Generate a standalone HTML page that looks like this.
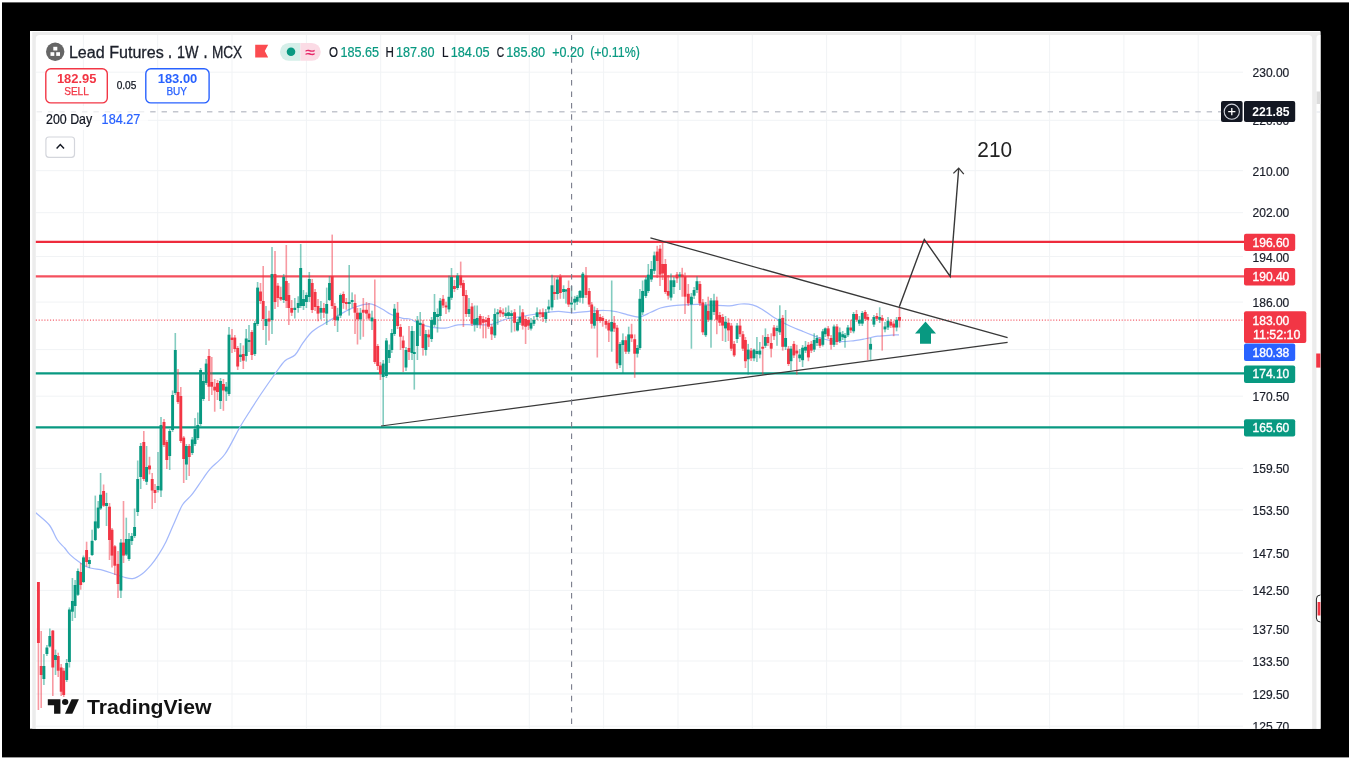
<!DOCTYPE html>
<html lang="en"><head><meta charset="utf-8"><title>Lead Futures 1W MCX</title>
<style>html,body{margin:0;padding:0;background:#fff;overflow:hidden}body{width:1350px;height:759px}svg{display:block}</style>
</head><body>
<svg width="1350" height="759" viewBox="0 0 1350 759" font-family="'Liberation Sans', sans-serif">
<defs><clipPath id="inner"><rect x="30" y="31" width="1290.4" height="697.7"/></clipPath><clipPath id="pane"><rect x="35.8" y="35" width="1207.2" height="694"/></clipPath></defs>
<rect width="1350" height="759" fill="#fff"/>
<rect x="2" y="2.4" width="1347" height="755" fill="#000"/>
<g clip-path="url(#inner)">
<rect x="30" y="31" width="1291" height="698" fill="#fff"/>
<rect x="32.3" y="32.1" width="1290" height="700" fill="#ececec"/>
<rect x="1316.5" y="35.1" width="12" height="720" rx="3" fill="#fff"/>
<rect x="35.8" y="35" width="1276.4" height="720" rx="4" fill="#fff"/>
<line x1="83.4" y1="35" x2="83.4" y2="729" stroke="#f1f3f5" stroke-width="1"/>
<line x1="157.7" y1="35" x2="157.7" y2="729" stroke="#f1f3f5" stroke-width="1"/>
<line x1="232.0" y1="35" x2="232.0" y2="729" stroke="#f1f3f5" stroke-width="1"/>
<line x1="306.4" y1="35" x2="306.4" y2="729" stroke="#f1f3f5" stroke-width="1"/>
<line x1="380.7" y1="35" x2="380.7" y2="729" stroke="#f1f3f5" stroke-width="1"/>
<line x1="455.0" y1="35" x2="455.0" y2="729" stroke="#f1f3f5" stroke-width="1"/>
<line x1="529.3" y1="35" x2="529.3" y2="729" stroke="#f1f3f5" stroke-width="1"/>
<line x1="603.6" y1="35" x2="603.6" y2="729" stroke="#f1f3f5" stroke-width="1"/>
<line x1="678.0" y1="35" x2="678.0" y2="729" stroke="#f1f3f5" stroke-width="1"/>
<line x1="752.3" y1="35" x2="752.3" y2="729" stroke="#f1f3f5" stroke-width="1"/>
<line x1="826.6" y1="35" x2="826.6" y2="729" stroke="#f1f3f5" stroke-width="1"/>
<line x1="900.9" y1="35" x2="900.9" y2="729" stroke="#f1f3f5" stroke-width="1"/>
<line x1="975.2" y1="35" x2="975.2" y2="729" stroke="#f1f3f5" stroke-width="1"/>
<line x1="1049.6" y1="35" x2="1049.6" y2="729" stroke="#f1f3f5" stroke-width="1"/>
<line x1="1123.9" y1="35" x2="1123.9" y2="729" stroke="#f1f3f5" stroke-width="1"/>
<line x1="1198.2" y1="35" x2="1198.2" y2="729" stroke="#f1f3f5" stroke-width="1"/>
<line x1="35.8" y1="72.2" x2="1243" y2="72.2" stroke="#f1f3f5" stroke-width="1"/>
<line x1="35.8" y1="120.3" x2="1243" y2="120.3" stroke="#f1f3f5" stroke-width="1"/>
<line x1="35.8" y1="170.7" x2="1243" y2="170.7" stroke="#f1f3f5" stroke-width="1"/>
<line x1="35.8" y1="212.7" x2="1243" y2="212.7" stroke="#f1f3f5" stroke-width="1"/>
<line x1="35.8" y1="256.5" x2="1243" y2="256.5" stroke="#f1f3f5" stroke-width="1"/>
<line x1="35.8" y1="302.1" x2="1243" y2="302.1" stroke="#f1f3f5" stroke-width="1"/>
<line x1="35.8" y1="349.6" x2="1243" y2="349.6" stroke="#f1f3f5" stroke-width="1"/>
<line x1="35.8" y1="396.2" x2="1243" y2="396.2" stroke="#f1f3f5" stroke-width="1"/>
<line x1="35.8" y1="468.4" x2="1243" y2="468.4" stroke="#f1f3f5" stroke-width="1"/>
<line x1="35.8" y1="509.9" x2="1243" y2="509.9" stroke="#f1f3f5" stroke-width="1"/>
<line x1="35.8" y1="553.1" x2="1243" y2="553.1" stroke="#f1f3f5" stroke-width="1"/>
<line x1="35.8" y1="590.4" x2="1243" y2="590.4" stroke="#f1f3f5" stroke-width="1"/>
<line x1="35.8" y1="629.1" x2="1243" y2="629.1" stroke="#f1f3f5" stroke-width="1"/>
<line x1="35.8" y1="661.0" x2="1243" y2="661.0" stroke="#f1f3f5" stroke-width="1"/>
<line x1="35.8" y1="694.0" x2="1243" y2="694.0" stroke="#f1f3f5" stroke-width="1"/>
<line x1="35.8" y1="726.2" x2="1243" y2="726.2" stroke="#f1f3f5" stroke-width="1"/>
<line x1="35.8" y1="241.9" x2="1244" y2="241.9" stroke="#ee2b3c" stroke-width="2.15"/>
<line x1="35.8" y1="276.4" x2="1244" y2="276.4" stroke="#f4505e" stroke-width="2.15"/>
<line x1="35.8" y1="373.3" x2="1244" y2="373.3" stroke="#089981" stroke-width="2.15"/>
<line x1="35.8" y1="427.3" x2="1244" y2="427.3" stroke="#089981" stroke-width="2.15"/>
<line x1="35.8" y1="320.1" x2="1244" y2="320.1" stroke="#f23645" stroke-width="1.3" stroke-dasharray="1.1 1.75" opacity="0.8"/>
<g clip-path="url(#pane)">
<path d="M35.8 512.7C38.0 514.8 45.7 520.5 49.3 525.0C52.9 529.5 54.8 536.2 57.4 540.0C60.0 543.8 62.6 545.6 64.7 548.0C66.8 550.4 67.6 552.3 70.0 554.6C72.4 556.9 76.1 559.9 79.2 562.0C82.3 564.1 84.5 566.1 88.5 567.5C92.5 568.9 98.9 569.2 103.2 570.3C107.5 571.4 110.9 572.9 114.3 574.0C117.7 575.1 120.4 576.2 123.5 577.0C126.6 577.8 129.6 579.1 132.7 578.6C135.8 578.1 138.9 576.3 142.0 574.0C145.1 571.7 148.4 568.0 151.2 564.8C154.0 561.6 156.1 558.5 158.6 554.6C161.1 550.8 163.6 546.6 166.0 541.7C168.4 536.8 170.6 531.1 173.3 525.0C176.1 518.9 179.4 509.9 182.5 504.8C185.6 499.8 188.4 499.0 191.8 494.7C195.2 490.4 199.7 483.3 202.8 479.0C205.9 474.7 206.5 473.0 210.2 468.8C213.9 464.6 220.0 461.0 225.0 454.0C230.0 447.0 235.7 434.3 240.0 427.0C244.3 419.7 246.9 415.8 250.6 410.0C254.3 404.2 257.8 398.7 262.0 392.5C266.2 386.3 271.8 378.3 275.6 373.0C279.4 367.7 281.8 363.7 285.0 360.7C288.2 357.7 292.1 357.9 295.0 355.0C297.9 352.1 299.8 347.3 302.6 343.4C305.4 339.5 308.5 335.0 312.0 331.8C315.5 328.6 320.2 326.2 323.8 324.0C327.4 321.8 329.9 320.4 333.4 318.3C336.9 316.2 341.1 313.5 345.0 311.6C348.9 309.7 352.3 308.0 356.5 306.7C360.7 305.4 365.8 303.6 370.0 303.9C374.2 304.2 378.1 306.9 381.6 308.7C385.1 310.5 387.7 312.9 391.2 314.5C394.7 316.1 399.7 317.6 402.8 318.3C405.9 319.1 407.2 318.1 410.0 319.0C412.8 319.9 416.4 322.5 419.6 323.8C422.8 325.1 425.1 326.0 429.3 326.7C433.5 327.4 439.9 328.5 444.7 328.2C449.5 327.9 453.2 325.4 458.0 324.8C462.8 324.2 468.1 324.9 473.6 324.8C479.1 324.7 485.6 325.4 491.0 324.4C496.4 323.4 501.8 320.2 506.3 319.0C510.8 317.8 514.1 317.7 518.0 317.0C521.9 316.3 525.0 315.7 529.5 315.0C534.0 314.3 540.2 313.4 545.0 312.8C549.8 312.2 553.6 311.3 558.4 311.3C563.2 311.3 568.7 312.8 573.8 312.8C578.9 312.8 583.9 311.7 589.0 311.3C594.1 310.9 600.1 310.4 604.6 310.5C609.1 310.6 612.1 311.0 616.0 311.7C619.9 312.4 623.8 313.9 627.7 314.8C631.6 315.7 635.4 317.4 639.3 317.0C643.1 316.6 647.3 313.8 650.8 312.3C654.3 310.8 657.0 309.1 660.5 308.0C664.0 306.9 667.5 306.4 671.6 305.9C675.7 305.4 680.5 305.1 685.0 304.8C689.5 304.6 693.7 304.3 698.5 304.4C703.3 304.5 708.9 305.1 714.0 305.3C719.1 305.6 724.9 306.1 729.4 305.9C733.9 305.7 737.1 304.2 741.0 304.0C744.9 303.8 749.0 303.9 752.5 304.8C756.0 305.7 758.8 307.3 762.0 309.2C765.2 311.1 768.6 313.9 771.8 316.0C775.0 318.1 778.2 319.9 781.4 321.7C784.6 323.4 787.5 324.9 791.0 326.5C794.5 328.1 799.1 329.9 802.6 331.3C806.1 332.8 808.7 333.9 812.2 335.2C815.7 336.5 819.6 338.0 823.8 339.0C828.0 340.0 832.8 341.1 837.3 341.4C841.8 341.7 846.3 341.4 850.8 341.0C855.3 340.6 859.7 339.8 864.2 339.0C868.7 338.2 873.2 336.8 877.7 336.2C882.2 335.6 887.7 335.4 891.2 335.2C894.8 335.0 897.7 334.9 899.0 334.8" fill="none" stroke="#a4b9fb" stroke-width="1.25"/>
<rect x="37.60" y="582.0" width="1.6" height="128.0" fill="#f23645" opacity="0.5"/>
<rect x="36.95" y="582.0" width="2.9" height="61.0" fill="#f23645"/>
<rect x="40.40" y="631.0" width="1.6" height="77.0" fill="#f23645" opacity="0.5"/>
<rect x="39.75" y="666.0" width="2.9" height="9.0" fill="#f23645"/>
<rect x="43.10" y="654.0" width="1.6" height="31.0" fill="#089981" opacity="0.5"/>
<rect x="42.45" y="666.0" width="2.9" height="13.0" fill="#089981"/>
<rect x="46.10" y="645.0" width="1.6" height="11.0" fill="#089981" opacity="0.5"/>
<rect x="45.45" y="647.5" width="2.9" height="6.5" fill="#089981"/>
<rect x="49.00" y="628.5" width="1.6" height="19.0" fill="#089981" opacity="0.5"/>
<rect x="48.35" y="636.0" width="2.9" height="10.5" fill="#089981"/>
<rect x="52.00" y="630.0" width="1.6" height="66.0" fill="#f23645" opacity="0.5"/>
<rect x="51.35" y="630.6" width="2.9" height="36.9" fill="#f23645"/>
<rect x="54.70" y="649.6" width="1.6" height="25.4" fill="#089981" opacity="0.5"/>
<rect x="54.05" y="655.0" width="2.9" height="5.0" fill="#089981"/>
<rect x="57.40" y="652.7" width="1.6" height="24.3" fill="#f23645" opacity="0.5"/>
<rect x="56.75" y="656.0" width="2.9" height="14.7" fill="#f23645"/>
<rect x="60.40" y="664.0" width="1.6" height="32.0" fill="#f23645" opacity="0.5"/>
<rect x="59.75" y="667.5" width="2.9" height="24.2" fill="#f23645"/>
<rect x="62.90" y="668.0" width="1.6" height="29.0" fill="#f23645" opacity="0.5"/>
<rect x="62.25" y="670.7" width="2.9" height="24.3" fill="#f23645"/>
<rect x="65.90" y="659.0" width="1.6" height="23.0" fill="#089981" opacity="0.5"/>
<rect x="65.25" y="663.0" width="2.9" height="17.0" fill="#089981"/>
<rect x="68.60" y="607.4" width="1.6" height="60.1" fill="#089981" opacity="0.5"/>
<rect x="67.95" y="609.5" width="2.9" height="52.5" fill="#089981"/>
<rect x="71.60" y="578.0" width="1.6" height="43.0" fill="#089981" opacity="0.5"/>
<rect x="70.95" y="601.0" width="2.9" height="10.7" fill="#089981"/>
<rect x="74.30" y="580.0" width="1.6" height="38.0" fill="#089981" opacity="0.5"/>
<rect x="73.65" y="585.0" width="2.9" height="21.0" fill="#089981"/>
<rect x="77.10" y="568.5" width="1.6" height="27.5" fill="#089981" opacity="0.5"/>
<rect x="76.45" y="571.0" width="2.9" height="23.8" fill="#089981"/>
<rect x="79.90" y="563.0" width="1.6" height="26.7" fill="#f23645" opacity="0.5"/>
<rect x="79.25" y="572.0" width="2.9" height="13.0" fill="#f23645"/>
<rect x="82.70" y="555.5" width="1.6" height="27.5" fill="#089981" opacity="0.5"/>
<rect x="82.05" y="557.4" width="2.9" height="24.6" fill="#089981"/>
<rect x="85.80" y="541.7" width="1.6" height="24.9" fill="#f23645" opacity="0.5"/>
<rect x="85.15" y="550.0" width="2.9" height="12.0" fill="#f23645"/>
<rect x="88.60" y="557.0" width="1.6" height="11.0" fill="#089981" opacity="0.5"/>
<rect x="87.95" y="560.0" width="2.9" height="4.0" fill="#089981"/>
<rect x="91.30" y="529.7" width="1.6" height="26.3" fill="#089981" opacity="0.5"/>
<rect x="90.65" y="540.8" width="2.9" height="14.2" fill="#089981"/>
<rect x="94.50" y="495.6" width="1.6" height="45.4" fill="#089981" opacity="0.5"/>
<rect x="93.85" y="521.4" width="2.9" height="18.6" fill="#089981"/>
<rect x="97.40" y="501.0" width="1.6" height="28.0" fill="#089981" opacity="0.5"/>
<rect x="96.75" y="507.6" width="2.9" height="20.3" fill="#089981"/>
<rect x="99.80" y="473.0" width="1.6" height="37.0" fill="#089981" opacity="0.5"/>
<rect x="99.15" y="494.7" width="2.9" height="13.8" fill="#089981"/>
<rect x="102.80" y="484.5" width="1.6" height="22.5" fill="#f23645" opacity="0.5"/>
<rect x="102.15" y="491.0" width="2.9" height="14.7" fill="#f23645"/>
<rect x="105.70" y="492.8" width="1.6" height="33.2" fill="#089981" opacity="0.5"/>
<rect x="105.05" y="503.0" width="2.9" height="3.0" fill="#089981"/>
<rect x="108.70" y="503.0" width="1.6" height="57.0" fill="#f23645" opacity="0.5"/>
<rect x="108.05" y="506.7" width="2.9" height="33.3" fill="#f23645"/>
<rect x="111.20" y="528.0" width="1.6" height="39.5" fill="#f23645" opacity="0.5"/>
<rect x="110.55" y="529.7" width="2.9" height="25.9" fill="#f23645"/>
<rect x="114.00" y="545.0" width="1.6" height="30.0" fill="#f23645" opacity="0.5"/>
<rect x="113.35" y="546.3" width="2.9" height="19.4" fill="#f23645"/>
<rect x="117.20" y="551.0" width="1.6" height="47.0" fill="#f23645" opacity="0.5"/>
<rect x="116.55" y="563.9" width="2.9" height="20.1" fill="#f23645"/>
<rect x="120.10" y="539.0" width="1.6" height="59.0" fill="#089981" opacity="0.5"/>
<rect x="119.45" y="542.6" width="2.9" height="48.0" fill="#089981"/>
<rect x="122.70" y="501.0" width="1.6" height="62.0" fill="#f23645" opacity="0.5"/>
<rect x="122.05" y="542.6" width="2.9" height="13.0" fill="#f23645"/>
<rect x="125.50" y="517.7" width="1.6" height="38.3" fill="#089981" opacity="0.5"/>
<rect x="124.85" y="539.0" width="2.9" height="15.6" fill="#089981"/>
<rect x="128.20" y="533.0" width="1.6" height="28.0" fill="#089981" opacity="0.5"/>
<rect x="127.55" y="539.0" width="2.9" height="20.0" fill="#089981"/>
<rect x="131.00" y="533.0" width="1.6" height="12.0" fill="#089981" opacity="0.5"/>
<rect x="130.35" y="536.0" width="2.9" height="5.0" fill="#089981"/>
<rect x="133.80" y="508.5" width="1.6" height="29.5" fill="#089981" opacity="0.5"/>
<rect x="133.15" y="527.0" width="2.9" height="9.0" fill="#089981"/>
<rect x="136.90" y="460.5" width="1.6" height="55.5" fill="#089981" opacity="0.5"/>
<rect x="136.25" y="479.0" width="2.9" height="33.0" fill="#089981"/>
<rect x="139.90" y="443.0" width="1.6" height="46.0" fill="#089981" opacity="0.5"/>
<rect x="139.25" y="446.0" width="2.9" height="31.0" fill="#089981"/>
<rect x="143.00" y="431.0" width="1.6" height="50.0" fill="#f23645" opacity="0.5"/>
<rect x="142.35" y="442.0" width="2.9" height="37.0" fill="#f23645"/>
<rect x="145.80" y="446.0" width="1.6" height="39.0" fill="#089981" opacity="0.5"/>
<rect x="145.15" y="467.0" width="2.9" height="14.8" fill="#089981"/>
<rect x="148.70" y="456.8" width="1.6" height="17.6" fill="#f23645" opacity="0.5"/>
<rect x="148.05" y="465.5" width="2.9" height="3.9" fill="#f23645"/>
<rect x="151.40" y="473.0" width="1.6" height="36.0" fill="#f23645" opacity="0.5"/>
<rect x="150.75" y="479.0" width="2.9" height="11.5" fill="#f23645"/>
<rect x="154.20" y="484.0" width="1.6" height="19.0" fill="#f23645" opacity="0.5"/>
<rect x="153.55" y="490.0" width="2.9" height="3.0" fill="#f23645"/>
<rect x="157.20" y="452.0" width="1.6" height="40.5" fill="#089981" opacity="0.5"/>
<rect x="156.55" y="486.0" width="2.9" height="4.0" fill="#089981"/>
<rect x="160.20" y="417.0" width="1.6" height="80.0" fill="#089981" opacity="0.5"/>
<rect x="159.55" y="425.0" width="2.9" height="65.5" fill="#089981"/>
<rect x="163.20" y="419.0" width="1.6" height="28.0" fill="#f23645" opacity="0.5"/>
<rect x="162.55" y="422.0" width="2.9" height="23.0" fill="#f23645"/>
<rect x="166.00" y="440.0" width="1.6" height="29.0" fill="#f23645" opacity="0.5"/>
<rect x="165.35" y="442.0" width="2.9" height="18.0" fill="#f23645"/>
<rect x="168.90" y="429.0" width="1.6" height="41.0" fill="#089981" opacity="0.5"/>
<rect x="168.25" y="431.0" width="2.9" height="25.0" fill="#089981"/>
<rect x="171.80" y="390.5" width="1.6" height="41.5" fill="#089981" opacity="0.5"/>
<rect x="171.15" y="395.0" width="2.9" height="35.0" fill="#089981"/>
<rect x="174.50" y="333.0" width="1.6" height="62.0" fill="#089981" opacity="0.5"/>
<rect x="173.85" y="350.0" width="2.9" height="43.0" fill="#089981"/>
<rect x="177.20" y="369.0" width="1.6" height="35.0" fill="#f23645" opacity="0.5"/>
<rect x="176.55" y="392.0" width="2.9" height="10.0" fill="#f23645"/>
<rect x="180.00" y="387.0" width="1.6" height="56.0" fill="#f23645" opacity="0.5"/>
<rect x="179.35" y="396.0" width="2.9" height="45.0" fill="#f23645"/>
<rect x="182.90" y="436.0" width="1.6" height="47.0" fill="#f23645" opacity="0.5"/>
<rect x="182.25" y="437.6" width="2.9" height="21.4" fill="#f23645"/>
<rect x="185.60" y="444.0" width="1.6" height="36.0" fill="#089981" opacity="0.5"/>
<rect x="184.95" y="446.0" width="2.9" height="18.5" fill="#089981"/>
<rect x="188.40" y="444.0" width="1.6" height="32.0" fill="#f23645" opacity="0.5"/>
<rect x="187.75" y="446.0" width="2.9" height="11.0" fill="#f23645"/>
<rect x="191.50" y="437.0" width="1.6" height="18.0" fill="#089981" opacity="0.5"/>
<rect x="190.85" y="439.5" width="2.9" height="13.5" fill="#089981"/>
<rect x="194.20" y="418.0" width="1.6" height="28.0" fill="#089981" opacity="0.5"/>
<rect x="193.55" y="429.0" width="2.9" height="15.0" fill="#089981"/>
<rect x="197.00" y="412.5" width="1.6" height="27.5" fill="#089981" opacity="0.5"/>
<rect x="196.35" y="425.0" width="2.9" height="13.0" fill="#089981"/>
<rect x="199.80" y="368.0" width="1.6" height="58.0" fill="#089981" opacity="0.5"/>
<rect x="199.15" y="370.0" width="2.9" height="54.0" fill="#089981"/>
<rect x="202.60" y="372.0" width="1.6" height="29.0" fill="#089981" opacity="0.5"/>
<rect x="201.95" y="381.0" width="2.9" height="18.0" fill="#089981"/>
<rect x="205.40" y="359.0" width="1.6" height="26.0" fill="#089981" opacity="0.5"/>
<rect x="204.75" y="363.6" width="2.9" height="19.4" fill="#089981"/>
<rect x="208.20" y="349.0" width="1.6" height="52.0" fill="#f23645" opacity="0.5"/>
<rect x="207.55" y="356.0" width="2.9" height="30.7" fill="#f23645"/>
<rect x="211.00" y="357.0" width="1.6" height="38.0" fill="#f23645" opacity="0.5"/>
<rect x="210.35" y="382.0" width="2.9" height="4.7" fill="#f23645"/>
<rect x="213.90" y="379.0" width="1.6" height="32.7" fill="#f23645" opacity="0.5"/>
<rect x="213.25" y="386.7" width="2.9" height="3.8" fill="#f23645"/>
<rect x="216.70" y="380.0" width="1.6" height="20.0" fill="#f23645" opacity="0.5"/>
<rect x="216.05" y="383.0" width="2.9" height="9.0" fill="#f23645"/>
<rect x="219.70" y="378.0" width="1.6" height="31.0" fill="#089981" opacity="0.5"/>
<rect x="219.05" y="381.0" width="2.9" height="20.0" fill="#089981"/>
<rect x="222.60" y="379.0" width="1.6" height="31.8" fill="#f23645" opacity="0.5"/>
<rect x="221.95" y="384.0" width="2.9" height="6.5" fill="#f23645"/>
<rect x="225.50" y="382.0" width="1.6" height="19.0" fill="#089981" opacity="0.5"/>
<rect x="224.85" y="386.7" width="2.9" height="4.8" fill="#089981"/>
<rect x="228.20" y="327.0" width="1.6" height="69.0" fill="#089981" opacity="0.5"/>
<rect x="227.55" y="334.7" width="2.9" height="59.3" fill="#089981"/>
<rect x="231.20" y="329.0" width="1.6" height="24.0" fill="#f23645" opacity="0.5"/>
<rect x="230.55" y="337.6" width="2.9" height="2.4" fill="#f23645"/>
<rect x="234.00" y="335.0" width="1.6" height="17.0" fill="#f23645" opacity="0.5"/>
<rect x="233.35" y="337.6" width="2.9" height="11.4" fill="#f23645"/>
<rect x="236.90" y="346.0" width="1.6" height="24.0" fill="#f23645" opacity="0.5"/>
<rect x="236.25" y="348.0" width="2.9" height="18.5" fill="#f23645"/>
<rect x="239.70" y="343.0" width="1.6" height="19.0" fill="#089981" opacity="0.5"/>
<rect x="239.05" y="354.6" width="2.9" height="2.4" fill="#089981"/>
<rect x="242.50" y="345.4" width="1.6" height="23.6" fill="#f23645" opacity="0.5"/>
<rect x="241.85" y="354.0" width="2.9" height="6.7" fill="#f23645"/>
<rect x="245.40" y="329.0" width="1.6" height="32.6" fill="#089981" opacity="0.5"/>
<rect x="244.75" y="338.5" width="2.9" height="17.5" fill="#089981"/>
<rect x="248.20" y="325.0" width="1.6" height="27.0" fill="#089981" opacity="0.5"/>
<rect x="247.55" y="340.0" width="2.9" height="2.0" fill="#089981"/>
<rect x="251.10" y="330.0" width="1.6" height="30.0" fill="#f23645" opacity="0.5"/>
<rect x="250.45" y="332.0" width="2.9" height="23.0" fill="#f23645"/>
<rect x="254.00" y="321.0" width="1.6" height="35.0" fill="#089981" opacity="0.5"/>
<rect x="253.35" y="323.0" width="2.9" height="31.0" fill="#089981"/>
<rect x="256.80" y="282.0" width="1.6" height="44.0" fill="#089981" opacity="0.5"/>
<rect x="256.15" y="287.6" width="2.9" height="36.4" fill="#089981"/>
<rect x="259.70" y="283.0" width="1.6" height="21.0" fill="#f23645" opacity="0.5"/>
<rect x="259.05" y="291.5" width="2.9" height="9.5" fill="#f23645"/>
<rect x="262.40" y="266.0" width="1.6" height="64.0" fill="#f23645" opacity="0.5"/>
<rect x="261.75" y="301.0" width="2.9" height="18.0" fill="#f23645"/>
<rect x="265.20" y="306.0" width="1.6" height="39.0" fill="#089981" opacity="0.5"/>
<rect x="264.55" y="319.0" width="2.9" height="7.0" fill="#089981"/>
<rect x="268.20" y="310.7" width="1.6" height="29.9" fill="#f23645" opacity="0.5"/>
<rect x="267.55" y="318.5" width="2.9" height="3.0" fill="#f23645"/>
<rect x="271.20" y="247.0" width="1.6" height="87.0" fill="#089981" opacity="0.5"/>
<rect x="270.55" y="274.0" width="2.9" height="46.0" fill="#089981"/>
<rect x="274.20" y="251.0" width="1.6" height="58.0" fill="#f23645" opacity="0.5"/>
<rect x="273.55" y="274.0" width="2.9" height="28.0" fill="#f23645"/>
<rect x="277.10" y="283.0" width="1.6" height="24.0" fill="#f23645" opacity="0.5"/>
<rect x="276.45" y="285.7" width="2.9" height="12.3" fill="#f23645"/>
<rect x="280.00" y="286.7" width="1.6" height="14.3" fill="#f23645" opacity="0.5"/>
<rect x="279.35" y="297.0" width="2.9" height="2.5" fill="#f23645"/>
<rect x="282.90" y="274.0" width="1.6" height="29.0" fill="#089981" opacity="0.5"/>
<rect x="282.25" y="277.0" width="2.9" height="23.0" fill="#089981"/>
<rect x="285.50" y="245.0" width="1.6" height="63.0" fill="#f23645" opacity="0.5"/>
<rect x="284.85" y="281.0" width="2.9" height="20.0" fill="#f23645"/>
<rect x="288.00" y="283.0" width="1.6" height="42.0" fill="#f23645" opacity="0.5"/>
<rect x="287.35" y="295.0" width="2.9" height="13.0" fill="#f23645"/>
<rect x="290.90" y="300.0" width="1.6" height="16.0" fill="#f23645" opacity="0.5"/>
<rect x="290.25" y="308.0" width="2.9" height="4.7" fill="#f23645"/>
<rect x="294.00" y="298.0" width="1.6" height="20.5" fill="#089981" opacity="0.5"/>
<rect x="293.35" y="307.8" width="2.9" height="2.2" fill="#089981"/>
<rect x="297.40" y="296.3" width="1.6" height="16.4" fill="#089981" opacity="0.5"/>
<rect x="296.75" y="303.0" width="2.9" height="5.0" fill="#089981"/>
<rect x="299.90" y="244.0" width="1.6" height="64.0" fill="#089981" opacity="0.5"/>
<rect x="299.25" y="268.0" width="2.9" height="38.0" fill="#089981"/>
<rect x="302.70" y="290.0" width="1.6" height="20.0" fill="#089981" opacity="0.5"/>
<rect x="302.05" y="299.0" width="2.9" height="7.0" fill="#089981"/>
<rect x="305.60" y="292.4" width="1.6" height="15.6" fill="#089981" opacity="0.5"/>
<rect x="304.95" y="295.0" width="2.9" height="7.0" fill="#089981"/>
<rect x="308.50" y="272.0" width="1.6" height="30.0" fill="#089981" opacity="0.5"/>
<rect x="307.85" y="279.0" width="2.9" height="18.0" fill="#089981"/>
<rect x="311.40" y="279.0" width="1.6" height="34.0" fill="#f23645" opacity="0.5"/>
<rect x="310.75" y="283.0" width="2.9" height="27.0" fill="#f23645"/>
<rect x="314.30" y="289.0" width="1.6" height="22.0" fill="#f23645" opacity="0.5"/>
<rect x="313.65" y="292.0" width="2.9" height="15.0" fill="#f23645"/>
<rect x="317.20" y="299.0" width="1.6" height="22.3" fill="#f23645" opacity="0.5"/>
<rect x="316.55" y="306.0" width="2.9" height="7.6" fill="#f23645"/>
<rect x="320.10" y="301.0" width="1.6" height="18.4" fill="#089981" opacity="0.5"/>
<rect x="319.45" y="308.0" width="2.9" height="4.7" fill="#089981"/>
<rect x="323.00" y="303.0" width="1.6" height="15.0" fill="#f23645" opacity="0.5"/>
<rect x="322.35" y="308.0" width="2.9" height="4.7" fill="#f23645"/>
<rect x="325.90" y="287.6" width="1.6" height="37.4" fill="#089981" opacity="0.5"/>
<rect x="325.25" y="304.0" width="2.9" height="9.6" fill="#089981"/>
<rect x="328.70" y="276.0" width="1.6" height="25.0" fill="#089981" opacity="0.5"/>
<rect x="328.05" y="283.0" width="2.9" height="17.0" fill="#089981"/>
<rect x="331.40" y="234.6" width="1.6" height="74.4" fill="#f23645" opacity="0.5"/>
<rect x="330.75" y="276.0" width="2.9" height="30.0" fill="#f23645"/>
<rect x="334.00" y="303.0" width="1.6" height="23.0" fill="#f23645" opacity="0.5"/>
<rect x="333.35" y="306.0" width="2.9" height="14.0" fill="#f23645"/>
<rect x="336.80" y="307.8" width="1.6" height="24.2" fill="#089981" opacity="0.5"/>
<rect x="336.15" y="316.5" width="2.9" height="3.9" fill="#089981"/>
<rect x="339.70" y="293.4" width="1.6" height="24.6" fill="#089981" opacity="0.5"/>
<rect x="339.05" y="295.0" width="2.9" height="20.6" fill="#089981"/>
<rect x="342.60" y="291.5" width="1.6" height="17.3" fill="#f23645" opacity="0.5"/>
<rect x="341.95" y="294.0" width="2.9" height="9.0" fill="#f23645"/>
<rect x="345.50" y="298.0" width="1.6" height="11.8" fill="#f23645" opacity="0.5"/>
<rect x="344.85" y="302.0" width="2.9" height="2.0" fill="#f23645"/>
<rect x="348.40" y="265.0" width="1.6" height="50.6" fill="#089981" opacity="0.5"/>
<rect x="347.75" y="302.0" width="2.9" height="2.0" fill="#089981"/>
<rect x="351.30" y="292.4" width="1.6" height="15.4" fill="#089981" opacity="0.5"/>
<rect x="350.65" y="300.0" width="2.9" height="2.0" fill="#089981"/>
<rect x="354.20" y="294.4" width="1.6" height="39.6" fill="#f23645" opacity="0.5"/>
<rect x="353.55" y="303.0" width="2.9" height="9.7" fill="#f23645"/>
<rect x="356.70" y="308.0" width="1.6" height="36.5" fill="#f23645" opacity="0.5"/>
<rect x="356.05" y="312.7" width="2.9" height="6.7" fill="#f23645"/>
<rect x="359.60" y="308.0" width="1.6" height="31.6" fill="#089981" opacity="0.5"/>
<rect x="358.95" y="312.7" width="2.9" height="6.7" fill="#089981"/>
<rect x="362.50" y="298.0" width="1.6" height="38.8" fill="#f23645" opacity="0.5"/>
<rect x="361.85" y="309.8" width="2.9" height="2.9" fill="#f23645"/>
<rect x="365.70" y="302.0" width="1.6" height="17.4" fill="#f23645" opacity="0.5"/>
<rect x="365.05" y="309.8" width="2.9" height="3.8" fill="#f23645"/>
<rect x="368.20" y="303.0" width="1.6" height="17.4" fill="#f23645" opacity="0.5"/>
<rect x="367.55" y="313.6" width="2.9" height="4.9" fill="#f23645"/>
<rect x="371.20" y="310.7" width="1.6" height="19.3" fill="#089981" opacity="0.5"/>
<rect x="370.55" y="317.5" width="2.9" height="3.8" fill="#089981"/>
<rect x="374.00" y="279.5" width="1.6" height="84.5" fill="#f23645" opacity="0.5"/>
<rect x="373.35" y="319.0" width="2.9" height="43.0" fill="#f23645"/>
<rect x="376.90" y="344.0" width="1.6" height="26.0" fill="#f23645" opacity="0.5"/>
<rect x="376.25" y="346.0" width="2.9" height="20.0" fill="#f23645"/>
<rect x="379.60" y="362.0" width="1.6" height="18.0" fill="#f23645" opacity="0.5"/>
<rect x="378.95" y="365.5" width="2.9" height="8.5" fill="#f23645"/>
<rect x="382.40" y="360.0" width="1.6" height="65.0" fill="#089981" opacity="0.5"/>
<rect x="381.75" y="363.6" width="2.9" height="13.4" fill="#089981"/>
<rect x="385.60" y="338.0" width="1.6" height="40.0" fill="#089981" opacity="0.5"/>
<rect x="384.95" y="340.5" width="2.9" height="35.5" fill="#089981"/>
<rect x="388.50" y="344.5" width="1.6" height="18.5" fill="#089981" opacity="0.5"/>
<rect x="387.85" y="350.0" width="2.9" height="8.0" fill="#089981"/>
<rect x="391.00" y="329.0" width="1.6" height="24.0" fill="#089981" opacity="0.5"/>
<rect x="390.35" y="333.0" width="2.9" height="17.0" fill="#089981"/>
<rect x="393.70" y="304.0" width="1.6" height="32.0" fill="#089981" opacity="0.5"/>
<rect x="393.05" y="308.7" width="2.9" height="25.3" fill="#089981"/>
<rect x="396.80" y="302.0" width="1.6" height="27.0" fill="#f23645" opacity="0.5"/>
<rect x="396.15" y="312.7" width="2.9" height="13.3" fill="#f23645"/>
<rect x="399.70" y="324.0" width="1.6" height="26.0" fill="#f23645" opacity="0.5"/>
<rect x="399.05" y="327.0" width="2.9" height="9.7" fill="#f23645"/>
<rect x="402.40" y="335.7" width="1.6" height="36.3" fill="#f23645" opacity="0.5"/>
<rect x="401.75" y="340.5" width="2.9" height="7.5" fill="#f23645"/>
<rect x="405.20" y="347.0" width="1.6" height="24.0" fill="#089981" opacity="0.5"/>
<rect x="404.55" y="350.0" width="2.9" height="17.5" fill="#089981"/>
<rect x="408.20" y="326.0" width="1.6" height="34.0" fill="#f23645" opacity="0.5"/>
<rect x="407.55" y="348.0" width="2.9" height="4.0" fill="#f23645"/>
<rect x="411.20" y="326.0" width="1.6" height="34.0" fill="#089981" opacity="0.5"/>
<rect x="410.55" y="331.0" width="2.9" height="22.0" fill="#089981"/>
<rect x="413.50" y="331.0" width="1.6" height="58.6" fill="#089981" opacity="0.5"/>
<rect x="412.85" y="352.0" width="2.9" height="2.0" fill="#089981"/>
<rect x="416.60" y="316.0" width="1.6" height="44.0" fill="#089981" opacity="0.5"/>
<rect x="415.95" y="320.5" width="2.9" height="25.5" fill="#089981"/>
<rect x="419.40" y="312.0" width="1.6" height="24.0" fill="#089981" opacity="0.5"/>
<rect x="418.75" y="322.8" width="2.9" height="2.2" fill="#089981"/>
<rect x="422.20" y="320.0" width="1.6" height="35.6" fill="#f23645" opacity="0.5"/>
<rect x="421.55" y="323.8" width="2.9" height="24.2" fill="#f23645"/>
<rect x="425.00" y="330.0" width="1.6" height="25.6" fill="#089981" opacity="0.5"/>
<rect x="424.35" y="334.0" width="2.9" height="16.0" fill="#089981"/>
<rect x="427.90" y="329.6" width="1.6" height="17.4" fill="#f23645" opacity="0.5"/>
<rect x="427.25" y="334.4" width="2.9" height="2.9" fill="#f23645"/>
<rect x="430.80" y="317.0" width="1.6" height="25.0" fill="#089981" opacity="0.5"/>
<rect x="430.15" y="320.0" width="2.9" height="19.0" fill="#089981"/>
<rect x="433.70" y="294.0" width="1.6" height="33.0" fill="#089981" opacity="0.5"/>
<rect x="433.05" y="312.0" width="2.9" height="12.8" fill="#089981"/>
<rect x="436.70" y="308.4" width="1.6" height="24.1" fill="#089981" opacity="0.5"/>
<rect x="436.05" y="314.0" width="2.9" height="3.0" fill="#089981"/>
<rect x="439.40" y="298.0" width="1.6" height="23.0" fill="#089981" opacity="0.5"/>
<rect x="438.75" y="300.7" width="2.9" height="15.3" fill="#089981"/>
<rect x="442.30" y="295.0" width="1.6" height="13.0" fill="#f23645" opacity="0.5"/>
<rect x="441.65" y="298.8" width="2.9" height="6.7" fill="#f23645"/>
<rect x="445.20" y="301.7" width="1.6" height="12.3" fill="#f23645" opacity="0.5"/>
<rect x="444.55" y="305.5" width="2.9" height="1.9" fill="#f23645"/>
<rect x="448.20" y="275.6" width="1.6" height="36.7" fill="#089981" opacity="0.5"/>
<rect x="447.55" y="296.8" width="2.9" height="12.6" fill="#089981"/>
<rect x="450.70" y="268.0" width="1.6" height="32.0" fill="#089981" opacity="0.5"/>
<rect x="450.05" y="277.0" width="2.9" height="20.8" fill="#089981"/>
<rect x="453.60" y="280.0" width="1.6" height="12.0" fill="#f23645" opacity="0.5"/>
<rect x="452.95" y="286.0" width="2.9" height="3.0" fill="#f23645"/>
<rect x="456.70" y="273.0" width="1.6" height="17.0" fill="#089981" opacity="0.5"/>
<rect x="456.05" y="275.6" width="2.9" height="12.4" fill="#089981"/>
<rect x="459.90" y="261.6" width="1.6" height="26.4" fill="#f23645" opacity="0.5"/>
<rect x="459.25" y="275.6" width="2.9" height="9.7" fill="#f23645"/>
<rect x="462.60" y="280.0" width="1.6" height="47.0" fill="#f23645" opacity="0.5"/>
<rect x="461.95" y="283.0" width="2.9" height="13.0" fill="#f23645"/>
<rect x="465.40" y="290.0" width="1.6" height="27.0" fill="#f23645" opacity="0.5"/>
<rect x="464.75" y="295.0" width="2.9" height="19.0" fill="#f23645"/>
<rect x="468.20" y="298.0" width="1.6" height="19.0" fill="#089981" opacity="0.5"/>
<rect x="467.55" y="309.0" width="2.9" height="5.0" fill="#089981"/>
<rect x="471.20" y="303.0" width="1.6" height="23.0" fill="#f23645" opacity="0.5"/>
<rect x="470.55" y="306.5" width="2.9" height="17.3" fill="#f23645"/>
<rect x="473.80" y="305.5" width="1.6" height="26.0" fill="#089981" opacity="0.5"/>
<rect x="473.15" y="319.0" width="2.9" height="5.8" fill="#089981"/>
<rect x="476.40" y="305.5" width="1.6" height="22.5" fill="#089981" opacity="0.5"/>
<rect x="475.75" y="318.0" width="2.9" height="6.8" fill="#089981"/>
<rect x="479.40" y="314.0" width="1.6" height="14.6" fill="#f23645" opacity="0.5"/>
<rect x="478.75" y="316.0" width="2.9" height="8.8" fill="#f23645"/>
<rect x="482.40" y="316.0" width="1.6" height="22.3" fill="#f23645" opacity="0.5"/>
<rect x="481.75" y="319.0" width="2.9" height="3.8" fill="#f23645"/>
<rect x="485.00" y="317.0" width="1.6" height="21.3" fill="#f23645" opacity="0.5"/>
<rect x="484.35" y="320.0" width="2.9" height="2.0" fill="#f23645"/>
<rect x="487.70" y="315.0" width="1.6" height="14.0" fill="#f23645" opacity="0.5"/>
<rect x="487.05" y="318.0" width="2.9" height="8.7" fill="#f23645"/>
<rect x="490.90" y="324.0" width="1.6" height="16.0" fill="#f23645" opacity="0.5"/>
<rect x="490.25" y="326.7" width="2.9" height="7.7" fill="#f23645"/>
<rect x="494.00" y="308.4" width="1.6" height="29.6" fill="#089981" opacity="0.5"/>
<rect x="493.35" y="314.0" width="2.9" height="21.4" fill="#089981"/>
<rect x="496.90" y="309.0" width="1.6" height="15.8" fill="#089981" opacity="0.5"/>
<rect x="496.25" y="312.3" width="2.9" height="1.9" fill="#089981"/>
<rect x="499.50" y="307.0" width="1.6" height="10.0" fill="#f23645" opacity="0.5"/>
<rect x="498.85" y="310.3" width="2.9" height="2.9" fill="#f23645"/>
<rect x="502.30" y="308.4" width="1.6" height="8.6" fill="#f23645" opacity="0.5"/>
<rect x="501.65" y="312.3" width="2.9" height="1.9" fill="#f23645"/>
<rect x="505.00" y="307.4" width="1.6" height="10.6" fill="#089981" opacity="0.5"/>
<rect x="504.35" y="313.2" width="2.9" height="2.8" fill="#089981"/>
<rect x="507.70" y="305.5" width="1.6" height="13.5" fill="#089981" opacity="0.5"/>
<rect x="507.05" y="312.3" width="2.9" height="3.7" fill="#089981"/>
<rect x="510.70" y="310.3" width="1.6" height="22.2" fill="#089981" opacity="0.5"/>
<rect x="510.05" y="313.2" width="2.9" height="2.8" fill="#089981"/>
<rect x="513.80" y="309.0" width="1.6" height="22.5" fill="#f23645" opacity="0.5"/>
<rect x="513.15" y="312.3" width="2.9" height="10.5" fill="#f23645"/>
<rect x="516.70" y="319.0" width="1.6" height="12.5" fill="#089981" opacity="0.5"/>
<rect x="516.05" y="322.0" width="2.9" height="8.5" fill="#089981"/>
<rect x="519.10" y="305.5" width="1.6" height="19.5" fill="#089981" opacity="0.5"/>
<rect x="518.45" y="317.0" width="2.9" height="5.8" fill="#089981"/>
<rect x="521.90" y="309.0" width="1.6" height="20.6" fill="#f23645" opacity="0.5"/>
<rect x="521.25" y="312.3" width="2.9" height="13.4" fill="#f23645"/>
<rect x="524.80" y="316.0" width="1.6" height="28.0" fill="#f23645" opacity="0.5"/>
<rect x="524.15" y="319.0" width="2.9" height="7.7" fill="#f23645"/>
<rect x="527.70" y="317.0" width="1.6" height="13.0" fill="#f23645" opacity="0.5"/>
<rect x="527.05" y="320.0" width="2.9" height="5.7" fill="#f23645"/>
<rect x="530.20" y="318.0" width="1.6" height="12.5" fill="#089981" opacity="0.5"/>
<rect x="529.55" y="322.8" width="2.9" height="5.8" fill="#089981"/>
<rect x="533.10" y="316.0" width="1.6" height="10.0" fill="#089981" opacity="0.5"/>
<rect x="532.45" y="320.0" width="2.9" height="3.8" fill="#089981"/>
<rect x="536.30" y="307.4" width="1.6" height="12.6" fill="#089981" opacity="0.5"/>
<rect x="535.65" y="312.3" width="2.9" height="4.7" fill="#089981"/>
<rect x="539.20" y="309.4" width="1.6" height="8.6" fill="#f23645" opacity="0.5"/>
<rect x="538.55" y="312.3" width="2.9" height="1.9" fill="#f23645"/>
<rect x="542.10" y="308.4" width="1.6" height="13.6" fill="#f23645" opacity="0.5"/>
<rect x="541.45" y="312.3" width="2.9" height="4.7" fill="#f23645"/>
<rect x="545.00" y="309.0" width="1.6" height="13.8" fill="#089981" opacity="0.5"/>
<rect x="544.35" y="312.3" width="2.9" height="6.7" fill="#089981"/>
<rect x="547.90" y="299.7" width="1.6" height="13.3" fill="#089981" opacity="0.5"/>
<rect x="547.25" y="306.5" width="2.9" height="2.9" fill="#089981"/>
<rect x="551.20" y="274.7" width="1.6" height="35.6" fill="#089981" opacity="0.5"/>
<rect x="550.55" y="285.3" width="2.9" height="22.1" fill="#089981"/>
<rect x="553.70" y="277.6" width="1.6" height="22.4" fill="#f23645" opacity="0.5"/>
<rect x="553.05" y="292.0" width="2.9" height="2.0" fill="#f23645"/>
<rect x="556.60" y="277.0" width="1.6" height="22.7" fill="#089981" opacity="0.5"/>
<rect x="555.95" y="279.5" width="2.9" height="14.5" fill="#089981"/>
<rect x="559.50" y="274.0" width="1.6" height="24.8" fill="#f23645" opacity="0.5"/>
<rect x="558.85" y="276.6" width="2.9" height="16.4" fill="#f23645"/>
<rect x="562.80" y="285.3" width="1.6" height="13.5" fill="#089981" opacity="0.5"/>
<rect x="562.15" y="289.0" width="2.9" height="3.0" fill="#089981"/>
<rect x="565.20" y="289.0" width="1.6" height="14.6" fill="#089981" opacity="0.5"/>
<rect x="564.55" y="289.5" width="2.9" height="2.0" fill="#089981"/>
<rect x="567.80" y="280.5" width="1.6" height="26.5" fill="#f23645" opacity="0.5"/>
<rect x="567.15" y="288.0" width="2.9" height="16.5" fill="#f23645"/>
<rect x="570.70" y="286.0" width="1.6" height="26.3" fill="#089981" opacity="0.5"/>
<rect x="570.05" y="302.6" width="2.9" height="1.9" fill="#089981"/>
<rect x="573.90" y="295.9" width="1.6" height="14.4" fill="#089981" opacity="0.5"/>
<rect x="573.25" y="298.8" width="2.9" height="3.8" fill="#089981"/>
<rect x="576.40" y="295.0" width="1.6" height="10.0" fill="#089981" opacity="0.5"/>
<rect x="575.75" y="296.8" width="2.9" height="4.9" fill="#089981"/>
<rect x="579.20" y="290.0" width="1.6" height="12.6" fill="#089981" opacity="0.5"/>
<rect x="578.55" y="291.0" width="2.9" height="6.8" fill="#089981"/>
<rect x="582.00" y="272.0" width="1.6" height="31.6" fill="#089981" opacity="0.5"/>
<rect x="581.35" y="273.7" width="2.9" height="24.1" fill="#089981"/>
<rect x="585.20" y="267.0" width="1.6" height="31.0" fill="#f23645" opacity="0.5"/>
<rect x="584.55" y="275.6" width="2.9" height="19.4" fill="#f23645"/>
<rect x="588.40" y="288.0" width="1.6" height="19.0" fill="#f23645" opacity="0.5"/>
<rect x="587.75" y="291.0" width="2.9" height="13.5" fill="#f23645"/>
<rect x="590.90" y="302.0" width="1.6" height="26.6" fill="#f23645" opacity="0.5"/>
<rect x="590.25" y="304.5" width="2.9" height="19.3" fill="#f23645"/>
<rect x="593.60" y="306.5" width="1.6" height="22.1" fill="#089981" opacity="0.5"/>
<rect x="592.95" y="313.0" width="2.9" height="12.7" fill="#089981"/>
<rect x="596.50" y="308.0" width="1.6" height="49.5" fill="#f23645" opacity="0.5"/>
<rect x="595.85" y="310.3" width="2.9" height="10.7" fill="#f23645"/>
<rect x="599.40" y="314.0" width="1.6" height="8.8" fill="#f23645" opacity="0.5"/>
<rect x="598.75" y="317.0" width="2.9" height="4.0" fill="#f23645"/>
<rect x="601.90" y="316.0" width="1.6" height="10.7" fill="#f23645" opacity="0.5"/>
<rect x="601.25" y="318.0" width="2.9" height="3.0" fill="#f23645"/>
<rect x="605.20" y="319.0" width="1.6" height="9.6" fill="#f23645" opacity="0.5"/>
<rect x="604.55" y="321.0" width="2.9" height="3.8" fill="#f23645"/>
<rect x="608.00" y="320.0" width="1.6" height="22.0" fill="#f23645" opacity="0.5"/>
<rect x="607.35" y="322.8" width="2.9" height="7.7" fill="#f23645"/>
<rect x="610.90" y="280.5" width="1.6" height="71.2" fill="#089981" opacity="0.5"/>
<rect x="610.25" y="322.0" width="2.9" height="9.5" fill="#089981"/>
<rect x="613.40" y="316.0" width="1.6" height="16.0" fill="#f23645" opacity="0.5"/>
<rect x="612.75" y="322.8" width="2.9" height="5.8" fill="#f23645"/>
<rect x="616.30" y="325.0" width="1.6" height="44.0" fill="#f23645" opacity="0.5"/>
<rect x="615.65" y="327.7" width="2.9" height="35.6" fill="#f23645"/>
<rect x="619.20" y="342.0" width="1.6" height="26.0" fill="#089981" opacity="0.5"/>
<rect x="618.55" y="344.0" width="2.9" height="21.2" fill="#089981"/>
<rect x="622.10" y="333.4" width="1.6" height="39.6" fill="#089981" opacity="0.5"/>
<rect x="621.45" y="340.2" width="2.9" height="4.8" fill="#089981"/>
<rect x="625.00" y="336.3" width="1.6" height="17.7" fill="#f23645" opacity="0.5"/>
<rect x="624.35" y="340.2" width="2.9" height="11.5" fill="#f23645"/>
<rect x="627.90" y="326.7" width="1.6" height="27.3" fill="#089981" opacity="0.5"/>
<rect x="627.25" y="334.4" width="2.9" height="17.3" fill="#089981"/>
<rect x="630.80" y="323.8" width="1.6" height="18.2" fill="#f23645" opacity="0.5"/>
<rect x="630.15" y="334.4" width="2.9" height="3.9" fill="#f23645"/>
<rect x="633.90" y="334.4" width="1.6" height="43.4" fill="#f23645" opacity="0.5"/>
<rect x="633.25" y="339.2" width="2.9" height="14.5" fill="#f23645"/>
<rect x="636.60" y="345.0" width="1.6" height="12.5" fill="#089981" opacity="0.5"/>
<rect x="635.95" y="348.0" width="2.9" height="5.7" fill="#089981"/>
<rect x="639.10" y="289.0" width="1.6" height="61.0" fill="#089981" opacity="0.5"/>
<rect x="638.45" y="298.8" width="2.9" height="49.2" fill="#089981"/>
<rect x="641.80" y="280.5" width="1.6" height="34.5" fill="#089981" opacity="0.5"/>
<rect x="641.15" y="291.0" width="2.9" height="21.3" fill="#089981"/>
<rect x="645.00" y="277.0" width="1.6" height="21.0" fill="#089981" opacity="0.5"/>
<rect x="644.35" y="279.5" width="2.9" height="16.5" fill="#089981"/>
<rect x="647.50" y="264.0" width="1.6" height="29.0" fill="#089981" opacity="0.5"/>
<rect x="646.85" y="274.7" width="2.9" height="16.3" fill="#089981"/>
<rect x="650.60" y="261.0" width="1.6" height="21.0" fill="#089981" opacity="0.5"/>
<rect x="649.95" y="269.0" width="2.9" height="10.5" fill="#089981"/>
<rect x="653.50" y="251.6" width="1.6" height="22.4" fill="#089981" opacity="0.5"/>
<rect x="652.85" y="255.4" width="2.9" height="15.4" fill="#089981"/>
<rect x="656.40" y="245.8" width="1.6" height="32.2" fill="#f23645" opacity="0.5"/>
<rect x="655.75" y="251.6" width="2.9" height="9.4" fill="#f23645"/>
<rect x="659.20" y="245.0" width="1.6" height="41.0" fill="#f23645" opacity="0.5"/>
<rect x="658.55" y="248.7" width="2.9" height="26.0" fill="#f23645"/>
<rect x="661.80" y="241.0" width="1.6" height="39.0" fill="#f23645" opacity="0.5"/>
<rect x="661.15" y="264.0" width="2.9" height="9.5" fill="#f23645"/>
<rect x="664.60" y="259.0" width="1.6" height="35.0" fill="#f23645" opacity="0.5"/>
<rect x="663.95" y="264.0" width="2.9" height="28.0" fill="#f23645"/>
<rect x="667.40" y="275.0" width="1.6" height="24.5" fill="#f23645" opacity="0.5"/>
<rect x="666.75" y="291.0" width="2.9" height="4.7" fill="#f23645"/>
<rect x="670.20" y="273.5" width="1.6" height="27.0" fill="#089981" opacity="0.5"/>
<rect x="669.55" y="280.3" width="2.9" height="17.3" fill="#089981"/>
<rect x="673.10" y="277.0" width="1.6" height="17.0" fill="#089981" opacity="0.5"/>
<rect x="672.45" y="280.3" width="2.9" height="6.7" fill="#089981"/>
<rect x="676.20" y="272.0" width="1.6" height="11.0" fill="#f23645" opacity="0.5"/>
<rect x="675.55" y="274.5" width="2.9" height="3.9" fill="#f23645"/>
<rect x="679.00" y="272.0" width="1.6" height="18.0" fill="#089981" opacity="0.5"/>
<rect x="678.35" y="274.5" width="2.9" height="1.9" fill="#089981"/>
<rect x="681.40" y="267.8" width="1.6" height="28.9" fill="#f23645" opacity="0.5"/>
<rect x="680.75" y="274.5" width="2.9" height="2.5" fill="#f23645"/>
<rect x="684.20" y="272.6" width="1.6" height="41.4" fill="#f23645" opacity="0.5"/>
<rect x="683.55" y="276.4" width="2.9" height="20.3" fill="#f23645"/>
<rect x="687.50" y="284.0" width="1.6" height="22.0" fill="#f23645" opacity="0.5"/>
<rect x="686.85" y="293.8" width="2.9" height="9.6" fill="#f23645"/>
<rect x="690.60" y="293.0" width="1.6" height="55.7" fill="#089981" opacity="0.5"/>
<rect x="689.95" y="296.7" width="2.9" height="7.7" fill="#089981"/>
<rect x="693.30" y="287.0" width="1.6" height="12.0" fill="#089981" opacity="0.5"/>
<rect x="692.65" y="290.0" width="2.9" height="5.7" fill="#089981"/>
<rect x="696.20" y="276.4" width="1.6" height="16.6" fill="#089981" opacity="0.5"/>
<rect x="695.55" y="281.2" width="2.9" height="8.8" fill="#089981"/>
<rect x="699.10" y="281.0" width="1.6" height="25.0" fill="#f23645" opacity="0.5"/>
<rect x="698.45" y="284.0" width="2.9" height="19.4" fill="#f23645"/>
<rect x="702.00" y="299.0" width="1.6" height="36.0" fill="#f23645" opacity="0.5"/>
<rect x="701.35" y="302.4" width="2.9" height="29.9" fill="#f23645"/>
<rect x="704.90" y="302.0" width="1.6" height="35.0" fill="#089981" opacity="0.5"/>
<rect x="704.25" y="305.3" width="2.9" height="29.9" fill="#089981"/>
<rect x="707.40" y="296.7" width="1.6" height="25.3" fill="#f23645" opacity="0.5"/>
<rect x="706.75" y="311.0" width="2.9" height="8.8" fill="#f23645"/>
<rect x="710.20" y="298.0" width="1.6" height="49.7" fill="#089981" opacity="0.5"/>
<rect x="709.55" y="300.5" width="2.9" height="19.3" fill="#089981"/>
<rect x="713.20" y="293.8" width="1.6" height="21.2" fill="#089981" opacity="0.5"/>
<rect x="712.55" y="300.5" width="2.9" height="11.5" fill="#089981"/>
<rect x="716.00" y="296.7" width="1.6" height="37.5" fill="#f23645" opacity="0.5"/>
<rect x="715.35" y="300.5" width="2.9" height="19.3" fill="#f23645"/>
<rect x="718.90" y="312.0" width="1.6" height="14.0" fill="#f23645" opacity="0.5"/>
<rect x="718.25" y="315.0" width="2.9" height="7.7" fill="#f23645"/>
<rect x="721.80" y="314.0" width="1.6" height="27.0" fill="#f23645" opacity="0.5"/>
<rect x="721.15" y="317.0" width="2.9" height="8.6" fill="#f23645"/>
<rect x="724.70" y="316.0" width="1.6" height="26.0" fill="#089981" opacity="0.5"/>
<rect x="724.05" y="321.7" width="2.9" height="6.7" fill="#089981"/>
<rect x="727.60" y="317.9" width="1.6" height="23.1" fill="#f23645" opacity="0.5"/>
<rect x="726.95" y="322.7" width="2.9" height="7.7" fill="#f23645"/>
<rect x="730.50" y="323.0" width="1.6" height="28.0" fill="#f23645" opacity="0.5"/>
<rect x="729.85" y="325.6" width="2.9" height="23.1" fill="#f23645"/>
<rect x="733.40" y="341.0" width="1.6" height="16.0" fill="#f23645" opacity="0.5"/>
<rect x="732.75" y="343.9" width="2.9" height="11.5" fill="#f23645"/>
<rect x="736.30" y="323.0" width="1.6" height="20.0" fill="#089981" opacity="0.5"/>
<rect x="735.65" y="325.6" width="2.9" height="13.4" fill="#089981"/>
<rect x="739.20" y="318.8" width="1.6" height="18.2" fill="#f23645" opacity="0.5"/>
<rect x="738.55" y="325.6" width="2.9" height="8.6" fill="#f23645"/>
<rect x="742.10" y="331.0" width="1.6" height="20.0" fill="#f23645" opacity="0.5"/>
<rect x="741.45" y="334.2" width="2.9" height="14.5" fill="#f23645"/>
<rect x="744.60" y="337.0" width="1.6" height="31.0" fill="#f23645" opacity="0.5"/>
<rect x="743.95" y="340.0" width="2.9" height="21.2" fill="#f23645"/>
<rect x="747.40" y="343.9" width="1.6" height="30.8" fill="#089981" opacity="0.5"/>
<rect x="746.75" y="349.6" width="2.9" height="9.7" fill="#089981"/>
<rect x="750.30" y="348.0" width="1.6" height="13.0" fill="#f23645" opacity="0.5"/>
<rect x="749.65" y="350.6" width="2.9" height="7.7" fill="#f23645"/>
<rect x="753.20" y="348.7" width="1.6" height="12.5" fill="#089981" opacity="0.5"/>
<rect x="752.55" y="349.6" width="2.9" height="8.7" fill="#089981"/>
<rect x="756.10" y="337.0" width="1.6" height="25.0" fill="#089981" opacity="0.5"/>
<rect x="755.45" y="351.0" width="2.9" height="3.0" fill="#089981"/>
<rect x="759.00" y="342.0" width="1.6" height="16.3" fill="#089981" opacity="0.5"/>
<rect x="758.35" y="350.6" width="2.9" height="3.9" fill="#089981"/>
<rect x="761.90" y="335.2" width="1.6" height="39.5" fill="#f23645" opacity="0.5"/>
<rect x="761.25" y="346.8" width="2.9" height="1.9" fill="#f23645"/>
<rect x="764.60" y="328.4" width="1.6" height="19.6" fill="#089981" opacity="0.5"/>
<rect x="763.95" y="337.0" width="2.9" height="8.8" fill="#089981"/>
<rect x="767.10" y="334.0" width="1.6" height="12.0" fill="#f23645" opacity="0.5"/>
<rect x="766.45" y="337.0" width="2.9" height="6.0" fill="#f23645"/>
<rect x="770.40" y="333.3" width="1.6" height="24.1" fill="#f23645" opacity="0.5"/>
<rect x="769.75" y="343.0" width="2.9" height="5.7" fill="#f23645"/>
<rect x="773.20" y="325.0" width="1.6" height="15.0" fill="#f23645" opacity="0.5"/>
<rect x="772.55" y="327.5" width="2.9" height="8.7" fill="#f23645"/>
<rect x="776.20" y="325.6" width="1.6" height="20.2" fill="#089981" opacity="0.5"/>
<rect x="775.55" y="328.0" width="2.9" height="3.0" fill="#089981"/>
<rect x="779.00" y="305.3" width="1.6" height="29.7" fill="#089981" opacity="0.5"/>
<rect x="778.35" y="318.8" width="2.9" height="13.5" fill="#089981"/>
<rect x="781.90" y="315.0" width="1.6" height="35.6" fill="#f23645" opacity="0.5"/>
<rect x="781.25" y="317.9" width="2.9" height="28.9" fill="#f23645"/>
<rect x="784.80" y="310.0" width="1.6" height="40.0" fill="#089981" opacity="0.5"/>
<rect x="784.15" y="338.0" width="2.9" height="8.8" fill="#089981"/>
<rect x="787.70" y="346.0" width="1.6" height="20.0" fill="#f23645" opacity="0.5"/>
<rect x="787.05" y="348.7" width="2.9" height="15.3" fill="#f23645"/>
<rect x="790.20" y="346.0" width="1.6" height="24.0" fill="#089981" opacity="0.5"/>
<rect x="789.55" y="348.7" width="2.9" height="12.5" fill="#089981"/>
<rect x="793.10" y="341.0" width="1.6" height="17.0" fill="#f23645" opacity="0.5"/>
<rect x="792.45" y="343.9" width="2.9" height="11.5" fill="#f23645"/>
<rect x="796.00" y="344.8" width="1.6" height="29.9" fill="#f23645" opacity="0.5"/>
<rect x="795.35" y="350.6" width="2.9" height="2.9" fill="#f23645"/>
<rect x="798.90" y="349.0" width="1.6" height="13.0" fill="#089981" opacity="0.5"/>
<rect x="798.25" y="354.5" width="2.9" height="3.8" fill="#089981"/>
<rect x="801.80" y="345.0" width="1.6" height="22.0" fill="#089981" opacity="0.5"/>
<rect x="801.15" y="347.7" width="2.9" height="12.5" fill="#089981"/>
<rect x="804.70" y="341.0" width="1.6" height="12.0" fill="#089981" opacity="0.5"/>
<rect x="804.05" y="346.8" width="2.9" height="3.8" fill="#089981"/>
<rect x="807.60" y="342.0" width="1.6" height="19.2" fill="#f23645" opacity="0.5"/>
<rect x="806.95" y="344.8" width="2.9" height="12.6" fill="#f23645"/>
<rect x="810.50" y="341.0" width="1.6" height="12.0" fill="#f23645" opacity="0.5"/>
<rect x="809.85" y="343.9" width="2.9" height="6.7" fill="#f23645"/>
<rect x="813.40" y="333.3" width="1.6" height="18.7" fill="#089981" opacity="0.5"/>
<rect x="812.75" y="340.0" width="2.9" height="9.6" fill="#089981"/>
<rect x="816.20" y="335.0" width="1.6" height="11.0" fill="#089981" opacity="0.5"/>
<rect x="815.55" y="338.0" width="2.9" height="5.0" fill="#089981"/>
<rect x="819.10" y="337.0" width="1.6" height="11.0" fill="#f23645" opacity="0.5"/>
<rect x="818.45" y="339.0" width="2.9" height="6.8" fill="#f23645"/>
<rect x="822.00" y="329.0" width="1.6" height="17.5" fill="#089981" opacity="0.5"/>
<rect x="821.35" y="331.3" width="2.9" height="13.5" fill="#089981"/>
<rect x="824.50" y="327.5" width="1.6" height="9.5" fill="#089981" opacity="0.5"/>
<rect x="823.85" y="328.4" width="2.9" height="5.8" fill="#089981"/>
<rect x="827.40" y="326.0" width="1.6" height="13.0" fill="#f23645" opacity="0.5"/>
<rect x="826.75" y="328.4" width="2.9" height="7.8" fill="#f23645"/>
<rect x="830.30" y="335.0" width="1.6" height="14.6" fill="#f23645" opacity="0.5"/>
<rect x="829.65" y="338.0" width="2.9" height="6.8" fill="#f23645"/>
<rect x="833.20" y="324.6" width="1.6" height="22.4" fill="#089981" opacity="0.5"/>
<rect x="832.55" y="326.5" width="2.9" height="18.3" fill="#089981"/>
<rect x="836.10" y="324.0" width="1.6" height="21.0" fill="#f23645" opacity="0.5"/>
<rect x="835.45" y="326.5" width="2.9" height="15.5" fill="#f23645"/>
<rect x="839.00" y="327.5" width="1.6" height="15.5" fill="#089981" opacity="0.5"/>
<rect x="838.35" y="332.3" width="2.9" height="8.7" fill="#089981"/>
<rect x="841.90" y="331.0" width="1.6" height="9.0" fill="#089981" opacity="0.5"/>
<rect x="841.25" y="334.2" width="2.9" height="2.9" fill="#089981"/>
<rect x="844.20" y="333.0" width="1.6" height="14.7" fill="#089981" opacity="0.5"/>
<rect x="843.55" y="335.2" width="2.9" height="2.8" fill="#089981"/>
<rect x="847.10" y="325.0" width="1.6" height="12.0" fill="#089981" opacity="0.5"/>
<rect x="846.45" y="327.5" width="2.9" height="7.7" fill="#089981"/>
<rect x="850.00" y="319.8" width="1.6" height="13.2" fill="#f23645" opacity="0.5"/>
<rect x="849.35" y="327.5" width="2.9" height="2.9" fill="#f23645"/>
<rect x="852.80" y="312.0" width="1.6" height="21.3" fill="#089981" opacity="0.5"/>
<rect x="852.15" y="314.0" width="2.9" height="17.3" fill="#089981"/>
<rect x="855.70" y="310.0" width="1.6" height="12.0" fill="#f23645" opacity="0.5"/>
<rect x="855.05" y="314.0" width="2.9" height="5.8" fill="#f23645"/>
<rect x="858.60" y="316.0" width="1.6" height="10.0" fill="#089981" opacity="0.5"/>
<rect x="857.95" y="319.8" width="2.9" height="3.8" fill="#089981"/>
<rect x="861.50" y="311.0" width="1.6" height="15.0" fill="#089981" opacity="0.5"/>
<rect x="860.85" y="313.0" width="2.9" height="10.6" fill="#089981"/>
<rect x="864.40" y="310.0" width="1.6" height="11.0" fill="#f23645" opacity="0.5"/>
<rect x="863.75" y="312.0" width="2.9" height="6.8" fill="#f23645"/>
<rect x="866.90" y="314.0" width="1.6" height="46.0" fill="#f23645" opacity="0.5"/>
<rect x="866.25" y="317.0" width="2.9" height="2.8" fill="#f23645"/>
<rect x="869.80" y="338.0" width="1.6" height="22.0" fill="#089981" opacity="0.5"/>
<rect x="869.15" y="343.9" width="2.9" height="5.7" fill="#089981"/>
<rect x="873.10" y="315.0" width="1.6" height="12.0" fill="#089981" opacity="0.5"/>
<rect x="872.45" y="317.0" width="2.9" height="7.6" fill="#089981"/>
<rect x="876.00" y="313.0" width="1.6" height="8.0" fill="#f23645" opacity="0.5"/>
<rect x="875.35" y="316.0" width="2.9" height="2.8" fill="#f23645"/>
<rect x="878.90" y="307.3" width="1.6" height="15.7" fill="#089981" opacity="0.5"/>
<rect x="878.25" y="317.0" width="2.9" height="2.8" fill="#089981"/>
<rect x="881.40" y="315.0" width="1.6" height="35.6" fill="#f23645" opacity="0.5"/>
<rect x="880.75" y="317.9" width="2.9" height="2.8" fill="#f23645"/>
<rect x="884.20" y="322.0" width="1.6" height="10.3" fill="#089981" opacity="0.5"/>
<rect x="883.55" y="326.5" width="2.9" height="2.9" fill="#089981"/>
<rect x="887.20" y="317.0" width="1.6" height="13.0" fill="#089981" opacity="0.5"/>
<rect x="886.55" y="320.7" width="2.9" height="6.8" fill="#089981"/>
<rect x="890.00" y="319.0" width="1.6" height="9.0" fill="#f23645" opacity="0.5"/>
<rect x="889.35" y="321.7" width="2.9" height="3.9" fill="#f23645"/>
<rect x="892.90" y="321.0" width="1.6" height="15.2" fill="#f23645" opacity="0.5"/>
<rect x="892.25" y="323.6" width="2.9" height="3.9" fill="#f23645"/>
<rect x="895.80" y="317.0" width="1.6" height="14.3" fill="#089981" opacity="0.5"/>
<rect x="895.15" y="319.8" width="2.9" height="7.7" fill="#089981"/>
<rect x="898.70" y="307.3" width="1.6" height="20.2" fill="#f23645" opacity="0.5"/>
<rect x="898.05" y="317.0" width="2.9" height="3.7" fill="#f23645"/>
</g>
<line x1="650.4" y1="237.8" x2="1007.6" y2="337.6" stroke="#383838" stroke-width="1.25"/>
<line x1="381" y1="426" x2="1007.6" y2="342.3" stroke="#383838" stroke-width="1.25"/>
<polyline points="899.3,306.7 924.3,239.4 950.2,276.4 958.7,168.6" fill="none" stroke="#383838" stroke-width="1.4" stroke-linejoin="miter"/>
<polyline points="953.4,173.4 958.7,168.2 963.8,174.2" fill="none" stroke="#383838" stroke-width="1.3"/>
<polygon points="925.5,321.5 936,333.4 931,333.4 931,343.8 920,343.8 920,333.4 915,333.4" fill="#089981"/>
<text x="977.3" y="156.8" font-size="22.6" fill="#222" textLength="34.8" lengthAdjust="spacingAndGlyphs">210</text>
<line x1="571.6" y1="35" x2="571.6" y2="729" stroke="#787b8a" stroke-width="1.1" stroke-dasharray="5.5 5.9" stroke-dashoffset="0.5"/>
<line x1="35.8" y1="111.8" x2="1221" y2="111.8" stroke="#c3c6ce" stroke-width="1.6" stroke-dasharray="5.4 5.96" stroke-dashoffset="10.56"/>
<rect x="36" y="106" width="112" height="24" fill="#fff" opacity="0.72"/>
<text x="1252.5" y="77.1" font-size="12.4" fill="#1a1e29" stroke="#1a1e29" stroke-width="0.2" textLength="36.8" lengthAdjust="spacingAndGlyphs">230.00</text>
<text x="1252.5" y="125.2" font-size="12.4" fill="#1a1e29" stroke="#1a1e29" stroke-width="0.2" textLength="36.8" lengthAdjust="spacingAndGlyphs">220.00</text>
<text x="1252.5" y="175.6" font-size="12.4" fill="#1a1e29" stroke="#1a1e29" stroke-width="0.2" textLength="36.8" lengthAdjust="spacingAndGlyphs">210.00</text>
<text x="1252.5" y="216.9" font-size="12.4" fill="#1a1e29" stroke="#1a1e29" stroke-width="0.2" textLength="36.8" lengthAdjust="spacingAndGlyphs">202.00</text>
<text x="1252.5" y="261.9" font-size="12.4" fill="#1a1e29" stroke="#1a1e29" stroke-width="0.2" textLength="36.8" lengthAdjust="spacingAndGlyphs">194.00</text>
<text x="1252.5" y="307.0" font-size="12.4" fill="#1a1e29" stroke="#1a1e29" stroke-width="0.2" textLength="36.8" lengthAdjust="spacingAndGlyphs">186.00</text>
<text x="1252.5" y="354.5" font-size="12.4" fill="#1a1e29" stroke="#1a1e29" stroke-width="0.2" textLength="36.8" lengthAdjust="spacingAndGlyphs">178.00</text>
<text x="1252.5" y="401.1" font-size="12.4" fill="#1a1e29" stroke="#1a1e29" stroke-width="0.2" textLength="36.8" lengthAdjust="spacingAndGlyphs">170.50</text>
<text x="1252.5" y="473.3" font-size="12.4" fill="#1a1e29" stroke="#1a1e29" stroke-width="0.2" textLength="36.8" lengthAdjust="spacingAndGlyphs">159.50</text>
<text x="1252.5" y="514.8" font-size="12.4" fill="#1a1e29" stroke="#1a1e29" stroke-width="0.2" textLength="36.8" lengthAdjust="spacingAndGlyphs">153.50</text>
<text x="1252.5" y="558.0" font-size="12.4" fill="#1a1e29" stroke="#1a1e29" stroke-width="0.2" textLength="36.8" lengthAdjust="spacingAndGlyphs">147.50</text>
<text x="1252.5" y="595.3" font-size="12.4" fill="#1a1e29" stroke="#1a1e29" stroke-width="0.2" textLength="36.8" lengthAdjust="spacingAndGlyphs">142.50</text>
<text x="1252.5" y="634.0" font-size="12.4" fill="#1a1e29" stroke="#1a1e29" stroke-width="0.2" textLength="36.8" lengthAdjust="spacingAndGlyphs">137.50</text>
<text x="1252.5" y="665.9" font-size="12.4" fill="#1a1e29" stroke="#1a1e29" stroke-width="0.2" textLength="36.8" lengthAdjust="spacingAndGlyphs">133.50</text>
<text x="1252.5" y="698.9" font-size="12.4" fill="#1a1e29" stroke="#1a1e29" stroke-width="0.2" textLength="36.8" lengthAdjust="spacingAndGlyphs">129.50</text>
<text x="1252.5" y="731.1" font-size="12.4" fill="#1a1e29" stroke="#1a1e29" stroke-width="0.2" textLength="36.8" lengthAdjust="spacingAndGlyphs">125.70</text>
<rect x="1244" y="233.8" width="51.2" height="17.3" rx="2" fill="#f23645"/>
<text x="1252.5" y="246.8" font-size="12" fill="#fff" stroke="#fff" stroke-width="0.35" textLength="36.8" lengthAdjust="spacingAndGlyphs">196.60</text>
<rect x="1244" y="267.9" width="51.2" height="17.7" rx="2" fill="#f23645"/>
<text x="1252.5" y="281.1" font-size="12" fill="#fff" stroke="#fff" stroke-width="0.35" textLength="36.8" lengthAdjust="spacingAndGlyphs">190.40</text>
<rect x="1244" y="311.3" width="62.3" height="31.8" rx="2" fill="#f23645"/>
<text x="1252.5" y="324.6" font-size="12" fill="#fff" stroke="#fff" stroke-width="0.35" textLength="36.8" lengthAdjust="spacingAndGlyphs">183.00</text>
<text x="1253" y="339" font-size="12" fill="#fff" stroke="#fff" stroke-width="0.35" textLength="47.4" lengthAdjust="spacingAndGlyphs">11:52:10</text>
<rect x="1244" y="343.6" width="51.2" height="17.3" rx="2" fill="#2962ff"/>
<text x="1252.5" y="356.6" font-size="12" fill="#fff" stroke="#fff" stroke-width="0.35" textLength="36.8" lengthAdjust="spacingAndGlyphs">180.38</text>
<rect x="1244" y="365.4" width="51.2" height="17.5" rx="2" fill="#089981"/>
<text x="1252.5" y="378.4" font-size="12" fill="#fff" stroke="#fff" stroke-width="0.35" textLength="36.8" lengthAdjust="spacingAndGlyphs">174.10</text>
<rect x="1244" y="419.3" width="51.2" height="17.3" rx="2" fill="#089981"/>
<text x="1252.5" y="432.3" font-size="12" fill="#fff" stroke="#fff" stroke-width="0.35" textLength="36.8" lengthAdjust="spacingAndGlyphs">165.60</text>
<rect x="1244" y="101.1" width="51.2" height="21" rx="2" fill="#131722"/>
<text x="1252.3" y="116.2" font-size="12" font-weight="bold" fill="#fff" textLength="37.2" lengthAdjust="spacingAndGlyphs">221.85</text>
<rect x="1221" y="101.1" width="21.6" height="21" rx="2" fill="#131722"/>
<circle cx="1231.8" cy="111.7" r="7.6" fill="none" stroke="#d1d4dc" stroke-width="1.1"/>
<path d="M1228.2 111.7h7.2M1231.8 108.1v7.2" stroke="#fff" stroke-width="1.3" fill="none"/>
<rect x="1316.6" y="91.5" width="4" height="12.5" fill="#dcdcdc"/>
<rect x="1316.6" y="111.5" width="4" height="1" fill="#e0e3eb"/>
<rect x="1316.2" y="353.5" width="5" height="14.1" fill="#f23645"/>
<rect x="1316.4" y="595" width="12" height="27" rx="4" fill="#fff" stroke="#222" stroke-width="1"/>
<rect x="1317.6" y="602" width="4" height="13.5" fill="#f23645"/>
<circle cx="55.2" cy="51.8" r="9.2" fill="#666"/>
<rect x="53.3" y="46.8" width="4" height="3.7" fill="#fff"/><rect x="50.5" y="52.2" width="3.8" height="3.7" fill="#fff"/><rect x="56.2" y="52.2" width="3.8" height="3.7" fill="#fff"/>
<text x="68.9" y="57.7" font-size="16" fill="#1c202b" stroke="#1c202b" stroke-width="0.3" lengthAdjust="spacingAndGlyphs" textLength="94.8">Lead Futures</text>
<text x="168.6" y="61.9" font-size="16" fill="#1c202b" stroke="#1c202b" stroke-width="0.3" lengthAdjust="spacingAndGlyphs" font-weight="bold" textLength="3.6">·</text>
<text x="177" y="57.7" font-size="16" fill="#1c202b" stroke="#1c202b" stroke-width="0.3" lengthAdjust="spacingAndGlyphs" textLength="21.5">1W</text>
<text x="204.1" y="61.9" font-size="16" fill="#1c202b" stroke="#1c202b" stroke-width="0.3" lengthAdjust="spacingAndGlyphs" font-weight="bold" textLength="3.6">·</text>
<text x="211.9" y="57.7" font-size="16" fill="#1c202b" stroke="#1c202b" stroke-width="0.3" lengthAdjust="spacingAndGlyphs" textLength="30.3">MCX</text>
<polygon points="255.2,44.8 268.2,44.8 264.8,51.1 268.2,57.4 255.2,57.4" fill="#fb4c50"/>
<path d="M288.9 43h11.5v17.8h-11.5a8.9 8.9 0 0 1 0-17.8z" fill="#d5efe9"/>
<path d="M300.4 43h11.4a8.9 8.9 0 0 1 0 17.8h-11.4z" fill="#fbdbe5"/>
<circle cx="291" cy="51.8" r="4.3" fill="#089981"/>
<text x="305.4" y="56.6" font-size="14" font-weight="bold" fill="#e6296a" textLength="9.8" lengthAdjust="spacingAndGlyphs">≈</text>
<text x="329" y="57" font-size="14.4" fill="#131722" stroke="#131722" stroke-width="0.22" textLength="9" lengthAdjust="spacingAndGlyphs">O</text>
<text x="340.4" y="57" font-size="14.4" fill="#089981" stroke="#089981" stroke-width="0.22" textLength="38.6" lengthAdjust="spacingAndGlyphs">185.65</text>
<text x="385.6" y="57" font-size="14.4" fill="#131722" stroke="#131722" stroke-width="0.22" textLength="8.4" lengthAdjust="spacingAndGlyphs">H</text>
<text x="396" y="57" font-size="14.4" fill="#089981" stroke="#089981" stroke-width="0.22" textLength="38.6" lengthAdjust="spacingAndGlyphs">187.80</text>
<text x="442" y="57" font-size="14.4" fill="#131722" stroke="#131722" stroke-width="0.22" textLength="6.5" lengthAdjust="spacingAndGlyphs">L</text>
<text x="450.7" y="57" font-size="14.4" fill="#089981" stroke="#089981" stroke-width="0.22" textLength="38.9" lengthAdjust="spacingAndGlyphs">184.05</text>
<text x="496.7" y="57" font-size="14.4" fill="#131722" stroke="#131722" stroke-width="0.22" textLength="7.4" lengthAdjust="spacingAndGlyphs">C</text>
<text x="506.3" y="57" font-size="14.4" fill="#089981" stroke="#089981" stroke-width="0.22" textLength="38.9" lengthAdjust="spacingAndGlyphs">185.80</text>
<text x="552.2" y="57" font-size="14.4" fill="#089981" stroke="#089981" stroke-width="0.22" textLength="31.8" lengthAdjust="spacingAndGlyphs">+0.20</text>
<text x="590.2" y="57" font-size="14.4" fill="#089981" stroke="#089981" stroke-width="0.22" textLength="49.6" lengthAdjust="spacingAndGlyphs">(+0.11%)</text>
<rect x="45.8" y="68.7" width="61.5" height="34.2" rx="5" fill="#fff" stroke="#f23645" stroke-width="1.4"/>
<text x="56.9" y="82.7" font-size="12" font-weight="bold" fill="#f23645" textLength="39.6" lengthAdjust="spacingAndGlyphs">182.95</text>
<text x="64.2" y="95.3" font-size="10.5" fill="#f23645" stroke="#f23645" stroke-width="0.25" textLength="24.6" lengthAdjust="spacingAndGlyphs">SELL</text>
<text x="116.7" y="88.8" font-size="10.4" fill="#131722" stroke="#131722" stroke-width="0.25" textLength="19.7" lengthAdjust="spacingAndGlyphs">0.05</text>
<rect x="145.8" y="68.7" width="63.3" height="34.2" rx="5" fill="#fff" stroke="#2962ff" stroke-width="1.4"/>
<text x="157.7" y="82.7" font-size="12" font-weight="bold" fill="#2962ff" textLength="39.6" lengthAdjust="spacingAndGlyphs">183.00</text>
<text x="166.4" y="95.3" font-size="10.5" fill="#2962ff" stroke="#2962ff" stroke-width="0.25" textLength="20.6" lengthAdjust="spacingAndGlyphs">BUY</text>
<text x="46" y="124.4" font-size="13.8" fill="#131722" stroke="#131722" stroke-width="0.22" textLength="46.2" lengthAdjust="spacingAndGlyphs">200 Day</text>
<text x="101.6" y="124.4" font-size="13.8" fill="#2962ff" stroke="#2962ff" stroke-width="0.22" textLength="38.8" lengthAdjust="spacingAndGlyphs">184.27</text>
<rect x="45.9" y="137" width="28.6" height="20.3" rx="3" fill="#fff" stroke="#d4d6dc" stroke-width="1.2"/>
<polyline points="56.6,148.4 60.3,144.6 64,148.4" fill="none" stroke="#131722" stroke-width="1.5"/>
<g transform="translate(47.8,699.3) scale(1.296,1.19) translate(0,-6)" fill="#131313"><path d="M9.75 6H0v4.9038h4.8462v7.2693H9.75V6z"/><circle cx="13.41" cy="8.28" r="2.45"/><path d="M18.3462 6h5.6538l-5.077 12.1731h-5.6538L18.3462 6z"/></g>
<text x="87" y="713.8" font-size="19.5" font-weight="bold" fill="#131313" textLength="124.5" lengthAdjust="spacingAndGlyphs">TradingView</text>
</g>
</svg>
</body></html>
